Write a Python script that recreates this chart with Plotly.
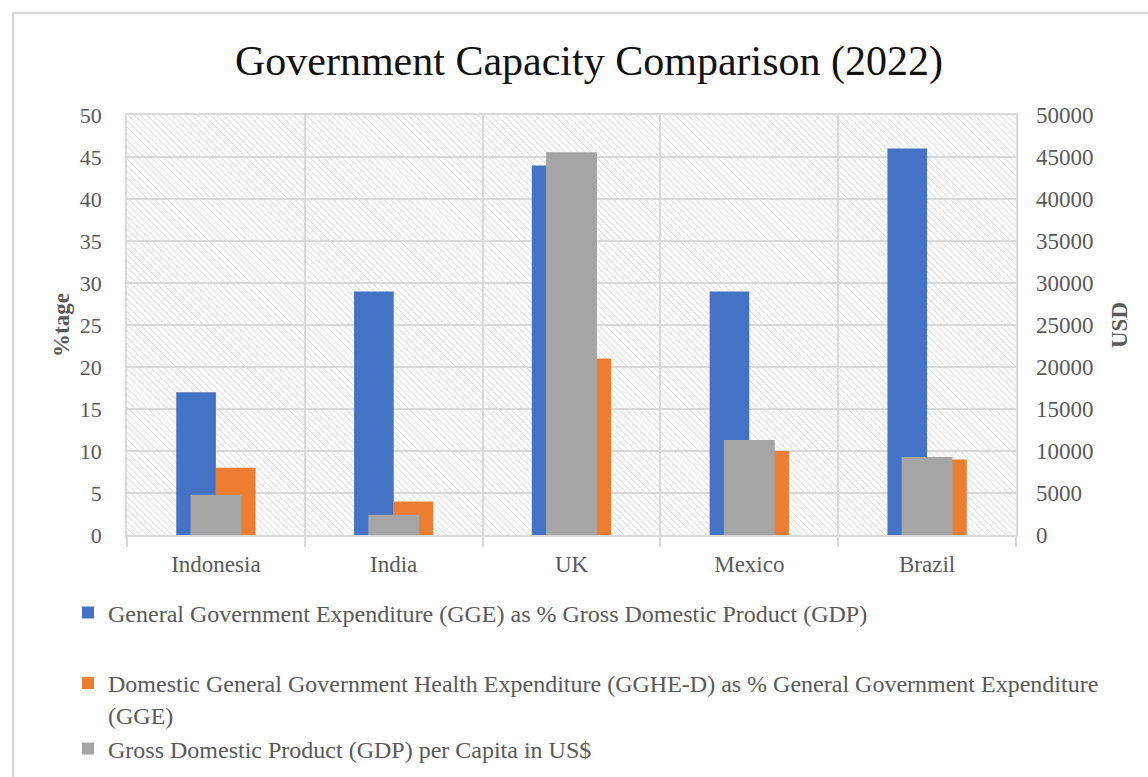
import base64
import plotly.graph_objects as go

# ---- data ----
countries = ["Indonesia", "India", "UK", "Mexico", "Brazil"]
gge_pct_gdp = [17, 29, 44, 29, 46]            # GGE as % of GDP (left axis)
gghe_pct_gge = [8, 4, 21, 10, 9]              # GGHE-D as % of GGE (left axis)
gdp_per_capita = [4780, 2400, 45560, 11300, 9300]  # GDP per capita, US$ (right axis)

left_ticks = list(range(0, 51, 5))
right_ticks = list(range(0, 50001, 5000))

series_names = [
    "General Government Expenditure (GGE) as % Gross Domestic Product (GDP)",
    "Domestic General Government Health Expenditure (GGHE-D) as % General Government Expenditure<br>(GGE)",
    "Gross Domestic Product (GDP) per Capita in US$",
]

# ---- styling ----
W, H = 1148, 777
L, R, T, B = 127, 132, 115, 242
PW, PH = W - L - R, H - T - B
SERIF = "Liberation Serif, Times New Roman, serif"
GREY_TXT = "#595959"
GRID = "#d9d9d9"
BLUE, ORANGE, GREY = "#4472C4", "#ED7D31", "#A5A5A5"


def px_to_paper_x(px):
    return (px - L) / PW


def px_to_paper_y(py):
    return (T + PH - py) / PH


# diagonal hatch texture for the plotting area
hatch_svg = (
    f'<svg xmlns="http://www.w3.org/2000/svg" width="{PW}" height="{PH}">'
    '<defs><pattern id="h" width="4.5" height="4.5" patternUnits="userSpaceOnUse" '
    'patternTransform="rotate(-45)">'
    '<line x1="0" y1="0" x2="0" y2="4.5" stroke="#cfcfcf" stroke-width="1.3"/>'
    '</pattern></defs>'
    f'<rect width="{PW}" height="{PH}" fill="white"/>'
    f'<rect width="{PW}" height="{PH}" fill="url(#h)"/></svg>'
)
hatch_uri = "data:image/svg+xml;base64," + base64.b64encode(hatch_svg.encode()).decode()

fig = go.Figure()

fig.add_trace(go.Bar(
    x=countries, y=gge_pct_gdp, name=series_names[0],
    marker=dict(color=BLUE, line=dict(width=0)),
    offset=-0.223, width=0.223, yaxis="y", legend="legend", showlegend=True,
))
fig.add_trace(go.Bar(
    x=countries, y=gghe_pct_gge, name=series_names[1],
    marker=dict(color=ORANGE, line=dict(width=0)),
    offset=0.0, width=0.223, yaxis="y", legend="legend2", showlegend=True,
))
fig.add_trace(go.Bar(
    x=countries, y=gdp_per_capita, name=series_names[2],
    marker=dict(color=GREY, line=dict(width=0)),
    offset=-0.143, width=0.286, yaxis="y2", legend="legend3", showlegend=True,
))

legend_common = dict(
    font=dict(family=SERIF, size=24, color=GREY_TXT),
    bgcolor="rgba(0,0,0,0)",
    xanchor="left",
    valign="top",
    itemclick=False,
)
LEG_X = px_to_paper_x(68)

fig.update_layout(
    width=W, height=H,
    margin=dict(l=L, r=R, t=T, b=B, pad=0, autoexpand=False),
    paper_bgcolor="white",
    plot_bgcolor="rgba(0,0,0,0)",
    barmode="overlay",
    showlegend=True,
    title=dict(
        text="Government Capacity Comparison (2022)",
        font=dict(family=SERIF, size=42, color="#111111"),
        x=589 / W, xanchor="center", xref="container",
        y=1 - 60 / H, yanchor="middle", yref="container",
    ),
    xaxis=dict(
        type="category", range=[-0.5, 4.5],
        tickson="boundaries", ticks="outside", ticklen=10, tickwidth=1.5, tickcolor=GRID,
        showgrid=True, gridcolor=GRID, gridwidth=1.5,
        showline=True, linecolor=GRID, linewidth=1.5, mirror=True,
        ticklabelstandoff=8,
        tickfont=dict(family=SERIF, size=23, color=GREY_TXT),
    ),
    yaxis=dict(
        range=[0, 50], tickvals=left_ticks, ticks="",
        showgrid=True, gridcolor=GRID, gridwidth=1.5,
        showline=True, linecolor=GRID, linewidth=1.5, mirror=True,
        zeroline=False, ticklabelstandoff=19,
        tickfont=dict(family=SERIF, size=22, color=GREY_TXT),
        title=dict(text="<b>%tage</b>", standoff=4,
                   font=dict(family=SERIF, size=23, color=GREY_TXT)),
    ),
    yaxis2=dict(
        range=[0, 50000], tickvals=right_ticks, tickformat="d", ticks="",
        overlaying="y", side="right", showgrid=False, zeroline=False,
        ticklabelstandoff=19,
        tickfont=dict(family=SERIF, size=23, color=GREY_TXT),
        title=dict(text="<b>USD</b>", standoff=18,
                   font=dict(family=SERIF, size=23, color=GREY_TXT)),
    ),
    legend=dict(legend_common, x=LEG_X, y=px_to_paper_y(613), yanchor="middle"),
    legend2=dict(legend_common, x=LEG_X, y=px_to_paper_y(661), yanchor="top"),
    legend3=dict(legend_common, x=LEG_X, y=px_to_paper_y(749), yanchor="middle"),
    images=[dict(
        source=hatch_uri, xref="paper", yref="paper",
        x=0, y=1, sizex=1, sizey=1, sizing="stretch",
        xanchor="left", yanchor="top", layer="below",
    )],
    shapes=[dict(
        type="rect", xref="paper", yref="paper",
        x0=px_to_paper_x(13), x1=px_to_paper_x(W + 20),
        y0=px_to_paper_y(H + 20), y1=px_to_paper_y(13),
        line=dict(color=GRID, width=2.5), fillcolor="rgba(0,0,0,0)", layer="below",
    )],
)

fig.write_html("out.html")
